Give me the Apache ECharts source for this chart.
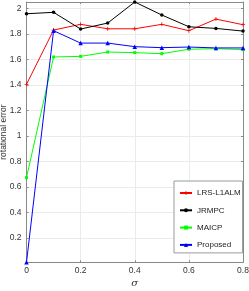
<!DOCTYPE html>
<html>
<head>
<meta charset="utf-8">
<script src="https://cdn.jsdelivr.net/npm/echarts@6/dist/echarts.min.js"></script>
<style>
html,body{margin:0;padding:0;background:#fff;}
#chart{width:249px;height:291px;}
</style>
</head>
<body>
<div id="chart"></div>
<script>
const sigma = [0, 0.1, 0.2, 0.3, 0.4, 0.5, 0.6, 0.7, 0.8];
const lrsL1alm = [1.405, 1.83, 1.875, 1.84, 1.84, 1.875, 1.825, 1.916, 1.872];
const jrmpc    = [1.958, 1.969, 1.838, 1.885, 2.05, 1.948, 1.856, 1.843, 1.822];
const maicp    = [0.674, 1.619, 1.624, 1.658, 1.653, 1.645, 1.68, 1.684, 1.677];
const proposed = [0.01, 1.825, 1.728, 1.728, 1.70, 1.692, 1.697, 1.69, 1.69];
const seriesNames = ['LRS-L1ALM', 'JRMPC', 'MAICP', 'Proposed'];
const xTicks = [0, 0.2, 0.4, 0.6, 0.8];
const yMin = 0.01, yMax = 2.05;

const plusPath = 'path://M4,0h2v4h4v2h-4v4h-2v-4h-4v-2h4z';
function pairs(vals){ return sigma.map((s,i)=>[s, vals[i]]); }

const axisGray = '#8a8a8a';
const gridGray = '#ebebeb';
const labelColor = '#333';
const fontFam = 'Liberation Sans, Arial, sans-serif';

const chart = echarts.init(document.getElementById('chart'));
const mk = (name, vals, color, symbol, size) => ({
  name, type: 'line', data: pairs(vals),
  symbol, symbolSize: size, showSymbol: true,
  lineStyle: {color, width: 1}, itemStyle: {color},
  emphasis: {disabled: true}, animation: false
});
chart.setOption({
  animation: false,
  grid: {left: 26.5, right: 6, top: 2, bottom: 28.7, containLabel: false, outerBoundsMode: 'none'},
  xAxis: [{
    type: 'value', min: 0, max: 0.8, interval: 0.2,
    axisLine: {show: true, onZero: false, lineStyle: {color: axisGray, width: 1}},
    axisTick: {show: true, inside: true, length: 2, lineStyle: {color: axisGray}},
    axisLabel: {color: labelColor, fontSize: 8.5, fontFamily: fontFam, margin: 4,
      formatter: v => xTicks.some(t => Math.abs(t - v) < 1e-9) ? String(+v.toFixed(1)) : ''},
    splitLine: {show: true, lineStyle: {color: gridGray, width: 1}},
    name: 'σ', nameLocation: 'middle', nameGap: 16, nameMoveOverlap: false,
    nameTextStyle: {fontSize: 10, fontStyle: 'italic', color: labelColor, fontFamily: 'DejaVu Serif, serif'}
  }, {
    type: 'value', position: 'top', min: 0, max: 0.8, interval: 0.2,
    axisLine: {show: true, onZero: false, lineStyle: {color: axisGray, width: 1}},
    axisTick: {show: true, inside: true, length: 2, lineStyle: {color: axisGray}},
    axisLabel: {show: false}, splitLine: {show: false}
  }],
  yAxis: [{
    type: 'value', min: yMin, max: yMax, splitNumber: 10,
    axisLine: {show: true, onZero: false, lineStyle: {color: axisGray, width: 1}},
    axisTick: {show: true, inside: true, length: 2, lineStyle: {color: axisGray}},
    axisLabel: {color: labelColor, fontSize: 8.5, fontFamily: fontFam, margin: 5,
      showMinLabel: false, showMaxLabel: false,
      formatter: v => String(+v.toFixed(1))},
    splitLine: {show: true, lineStyle: {color: gridGray, width: 1}},
    name: 'rotational error', nameLocation: 'middle', nameGap: 18, nameMoveOverlap: false,
    nameTextStyle: {fontSize: 8.5, color: labelColor, fontFamily: fontFam}
  }, {
    type: 'value', position: 'right', min: yMin, max: yMax, splitNumber: 10,
    axisLine: {show: true, onZero: false, lineStyle: {color: axisGray, width: 1}},
    axisTick: {show: true, inside: true, length: 2, lineStyle: {color: axisGray}},
    axisLabel: {show: false}, splitLine: {show: false}
  }],
  legend: {
    orient: 'vertical', left: 174, top: 181,
    data: seriesNames,
    itemWidth: 12, itemHeight: 5, itemGap: 9.3,
    padding: [8, 2, 4, 5],
    borderColor: '#999', borderWidth: 1, backgroundColor: '#fff',
    textStyle: {fontSize: 8, color: '#222', fontFamily: fontFam, width: 43},
    selectedMode: false
  },
  series: [
    mk(seriesNames[0], lrsL1alm, '#ff0000', plusPath, 4),
    mk(seriesNames[1], jrmpc, '#000000', 'circle', 3.5),
    mk(seriesNames[2], maicp, '#00ff00', 'rect', 3),
    mk(seriesNames[3], proposed, '#0000ff', 'triangle', 4.5)
  ]
});
</script>
</body>
</html>
